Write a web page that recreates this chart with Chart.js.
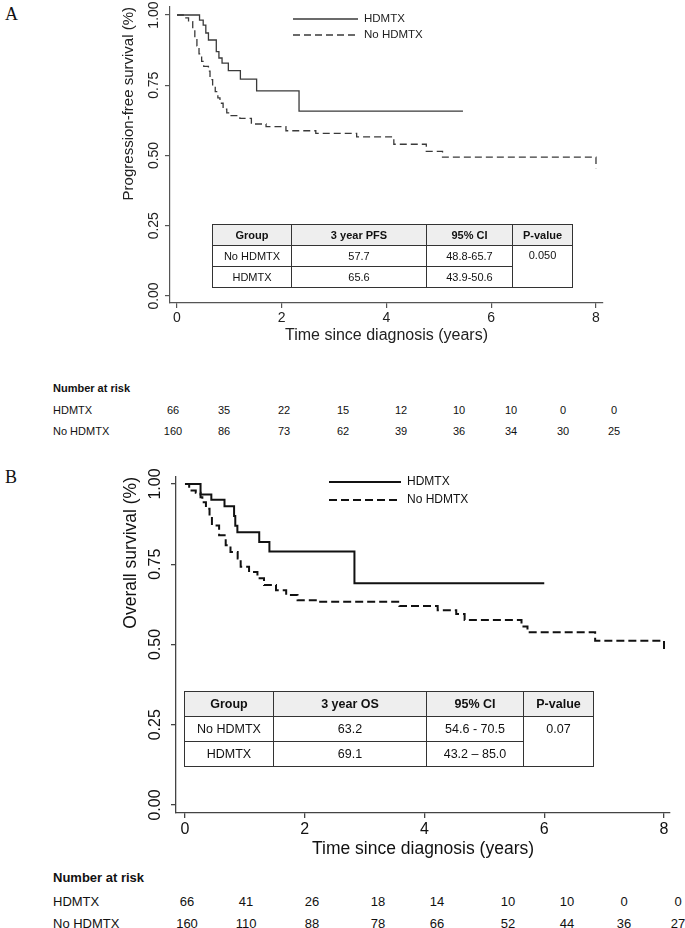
<!DOCTYPE html>
<html>
<head>
<meta charset="utf-8">
<script src="https://cdn.jsdelivr.net/npm/chart.js@4.4.0/dist/chart.umd.min.js"></script>
<style>
  body { margin: 0; background: #fff; width: 685px; height: 928px; position: relative; overflow: hidden;
         font-family: "Liberation Sans", Arial, sans-serif; color: #111; }
  canvas { position: absolute; left: 0; }
  .letter { position: absolute; left: 5px; font-family: "Liberation Serif", "Times New Roman", serif; font-size: 18px; }
  table.km { position: absolute; border-collapse: collapse; table-layout: fixed; color: #111; }
  table.km td, table.km th { padding: 0; text-align: center; font-weight: normal; }
  table.km th { background: #eeeeee; font-weight: bold; }
  table.km td.pv { vertical-align: top; }
  .risk { position: absolute; white-space: nowrap; line-height: 14px; }
  .risk.num { transform: translateX(-50%); }
</style>
</head>
<body>
<div class="letter" style="top:4px">A</div>
<div class="letter" style="top:467px">B</div>
<canvas id="pfs" width="685" height="345" style="top:0"></canvas>
<canvas id="os" width="685" height="400" style="top:460px"></canvas>

<script>
const xTicks = [0, 2, 4, 6, 8];
const yTicks = [0, 0.25, 0.5, 0.75, 1];
const groups = ['HDMTX', 'No HDMTX'];

// panel A - progression-free survival (years, proportion)
const pfsHdTime = [0, 0.43, 0.50, 0.55, 0.60, 0.75, 0.80, 0.86, 0.98, 1.21, 1.52, 2.33, 5.46];
const pfsHdSurv = [1, 0.982, 0.964, 0.936, 0.911, 0.870, 0.847, 0.829, 0.802, 0.772, 0.730, 0.658, 0.658];
const pfsNoTime = [0, 0.12, 0.22, 0.30, 0.34, 0.38, 0.42, 0.47, 0.51, 0.60, 0.63, 0.68, 0.73, 0.78, 0.82, 0.88, 0.95, 1.01, 1.20, 1.42, 1.70, 2.08, 2.65, 3.43, 4.14, 4.76, 5.07, 8.0];
const pfsNoSurv = [1, 0.990, 0.976, 0.952, 0.918, 0.890, 0.862, 0.835, 0.817, 0.800, 0.770, 0.745, 0.727, 0.705, 0.686, 0.665, 0.652, 0.642, 0.632, 0.612, 0.603, 0.588, 0.579, 0.566, 0.540, 0.515, 0.494, 0.455];

// panel B - overall survival
const osHdTime = [0, 0.26, 0.44, 0.66, 0.82, 0.84, 0.875, 1.24, 1.41, 2.83, 6.0];
const osHdSurv = [1, 0.967, 0.951, 0.931, 0.900, 0.870, 0.850, 0.819, 0.790, 0.691, 0.691];
const osNoTime = [0, 0.07, 0.18, 0.26, 0.29, 0.35, 0.41, 0.45, 0.57, 0.68, 0.76, 0.88, 0.93, 1.07, 1.21, 1.32, 1.52, 1.69, 1.88, 2.24, 3.58, 4.22, 4.53, 4.67, 5.62, 5.72, 6.85, 8.0];
const osNoSurv = [1, 0.980, 0.973, 0.959, 0.943, 0.923, 0.902, 0.871, 0.840, 0.809, 0.788, 0.768, 0.742, 0.726, 0.706, 0.685, 0.669, 0.654, 0.638, 0.633, 0.620, 0.607, 0.595, 0.576, 0.556, 0.538, 0.512, 0.483];

// number at risk
const riskPfsHd = [66, 35, 22, 15, 12, 10, 10, 0, 0];
const riskPfsNo = [160, 86, 73, 62, 39, 36, 34, 30, 25];
const riskOsHd = [66, 41, 26, 18, 14, 10, 10, 0, 0];
const riskOsNo = [160, 110, 88, 78, 66, 52, 44, 36, 27];

// summary tables
const pfsHeader = ['Group', '3 year PFS', '95% CI', 'P-value'];
const pfsRows = [['No HDMTX', '57.7', '48.8-65.7'], ['HDMTX', '65.6', '43.9-50.6']];
const pfsP = '0.050';
const osHeader = ['Group', '3 year OS', '95% CI', 'P-value'];
const osRows = [['No HDMTX', '63.2', '54.6 - 70.5'], ['HDMTX', '69.1', '43.2 \u2013 85.0']];
const osP = '0.07';

const FONT = '"Liberation Sans", Arial, sans-serif';

function pts(t, s) {
  return t.map((x, i) => ({ x: x, y: s[i] }));
}

function drawKm(id, o) {
  const extras = {
    id: 'extras',
    afterDraw(chart) {
      const ctx = chart.ctx;
      const sc = chart.scales.y;
      ctx.save();
      ctx.fillStyle = o.text;
      ctx.font = o.tickFont + 'px ' + FONT;
      ctx.textAlign = 'center';
      ctx.textBaseline = 'middle';
      sc.ticks.forEach(t => {
        ctx.save();
        ctx.translate(o.yLabelX, sc.getPixelForValue(t.value));
        ctx.rotate(-Math.PI / 2);
        ctx.fillText(t.value.toFixed(2), 0, 0);
        ctx.restore();
      });
      // legend
      ctx.textAlign = 'left';
      ctx.font = o.legFont + 'px ' + FONT;
      chart.data.datasets.forEach((ds, i) => {
        const y = o.legY + i * o.legGap;
        ctx.strokeStyle = ds.borderColor;
        ctx.lineWidth = ds.borderWidth;
        ctx.setLineDash(ds.borderDash || []);
        ctx.beginPath();
        ctx.moveTo(o.legX, y);
        ctx.lineTo(o.legX + o.legLen, y);
        ctx.stroke();
        ctx.setLineDash([]);
        ctx.fillText(ds.label, o.legX + o.legLen + 6, y);
      });
      ctx.restore();
    }
  };

  const axisGrid = { drawOnChartArea: false, drawTicks: true, tickLength: 5, color: o.axis, lineWidth: o.axisW };
  const axisBorder = { display: true, color: o.axis, width: o.axisW };

  return new Chart(document.getElementById(id), {
    type: 'line',
    data: {
      datasets: [
        { label: groups[0], data: pts(o.hdT, o.hdS), stepped: true, borderColor: o.line,
          borderWidth: o.lineW, pointRadius: 0, fill: false },
        { label: groups[1], data: pts(o.noT, o.noS), stepped: true, borderColor: o.line,
          borderWidth: o.lineW, borderDash: o.dash, pointRadius: 0, fill: false }
      ]
    },
    options: {
      responsive: false,
      animation: false,
      layout: { padding: { left: 0, top: o.top, right: o.right, bottom: 0 } },
      plugins: { legend: { display: false }, tooltip: { enabled: false } },
      scales: {
        x: {
          type: 'linear', min: o.xMin, max: o.xMax,
          afterBuildTicks: s => { s.ticks = xTicks.map(v => ({ value: v })); },
          afterFit: s => { s.height = o.xHeight; },
          grid: axisGrid, border: axisBorder,
          ticks: { color: o.text, font: { family: FONT, size: o.tickFont }, padding: 2, maxRotation: 0, autoSkip: false },
          title: { display: true, text: 'Time since diagnosis (years)', color: o.text,
                   font: { family: FONT, size: o.titleFont }, padding: { top: 0, bottom: 0 } }
        },
        y: {
          type: 'linear', min: o.yMin, max: o.yMax,
          afterBuildTicks: s => { s.ticks = yTicks.map(v => ({ value: v })); },
          afterFit: s => { s.width = o.yWidth; },
          grid: axisGrid, border: axisBorder,
          ticks: { display: false },
          title: { display: true, text: o.yTitle, align: 'end', color: o.text,
                   font: { family: FONT, size: o.yTitleFont }, padding: { top: o.yTitlePad, bottom: 0 } }
        }
      }
    },
    plugins: [extras]
  });
}

drawKm('pfs', {
  hdT: pfsHdTime, hdS: pfsHdSurv, noT: pfsNoTime, noS: pfsNoSurv,
  top: 7, right: 82, xHeight: 42, yWidth: 170,
  xMin: -0.134, xMax: 8.134, yMin: -0.025, yMax: 1.0285,
  line: '#3a3a3a', lineW: 1.3, dash: [7, 4], axis: '#555', axisW: 1.2, text: '#222',
  tickFont: 14, titleFont: 16, yTitleFont: 15, yTitle: 'Progression-free survival (%)', yTitlePad: 120,
  yLabelX: 154, legX: 293, legY: 19, legGap: 16, legLen: 65, legFont: 11.5
});

drawKm('os', {
  hdT: osHdTime, hdS: osHdSurv, noT: osNoTime, noS: osNoSurv,
  top: 17, right: 15, xHeight: 47, yWidth: 176,
  xMin: -0.150, xMax: 8.100, yMin: -0.025, yMax: 1.0218,
  line: '#111', lineW: 2, dash: [8, 4], axis: '#444', axisW: 1.3, text: '#111',
  tickFont: 16, titleFont: 17.5, yTitleFont: 17.5, yTitle: 'Overall survival (%)', yTitlePad: 121,
  yLabelX: 156, legX: 329, legY: 22, legGap: 18, legLen: 72, legFont: 12
});

function buildTable(header, rows, p, o) {
  const t = document.createElement('table');
  t.className = 'km';
  t.style.left = o.left + 'px';
  t.style.top = o.top + 'px';
  t.style.width = o.widths.reduce((a, b) => a + b, 0) + 'px';
  t.style.fontSize = o.font + 'px';
  const cg = document.createElement('colgroup');
  o.widths.forEach(w => { const c = document.createElement('col'); c.style.width = w + 'px'; cg.appendChild(c); });
  t.appendChild(cg);
  const border = o.bw + 'px solid #333';
  const hr = t.insertRow();
  header.forEach(h => {
    const th = document.createElement('th');
    th.textContent = h;
    th.style.border = border;
    th.style.height = o.rh + 'px';
    hr.appendChild(th);
  });
  rows.forEach((r, i) => {
    const tr = t.insertRow();
    r.forEach(v => {
      const td = tr.insertCell();
      td.textContent = v;
      td.style.border = border;
      td.style.height = o.rh + 'px';
    });
    if (i === 0) {
      const td = tr.insertCell();
      td.textContent = p;
      td.rowSpan = rows.length;
      td.className = 'pv';
      td.style.border = border;
      td.style.paddingTop = o.pvPad + 'px';
    }
  });
  document.body.appendChild(t);
}

buildTable(pfsHeader, pfsRows, pfsP, { left: 212, top: 224, widths: [79, 135, 86, 60], rh: 20, font: 11, bw: 1, pvPad: 3 });
buildTable(osHeader, osRows, osP, { left: 184, top: 691, widths: [89, 153, 97, 70], rh: 24, font: 12.5, bw: 1.5, pvPad: 5 });

function riskRow(text, x, y, size, bold, cls) {
  const d = document.createElement('div');
  d.className = 'risk' + (cls ? ' ' + cls : '');
  d.textContent = text;
  d.style.left = x + 'px';
  d.style.top = (y - 7) + 'px';
  d.style.fontSize = size + 'px';
  if (bold) d.style.fontWeight = 'bold';
  document.body.appendChild(d);
}

function riskTable(hd, no, xs, ys, size) {
  riskRow('Number at risk', 53, ys[0], size, true);
  riskRow(groups[0], 53, ys[1], size, false);
  riskRow(groups[1], 53, ys[2], size, false);
  hd.forEach((v, i) => riskRow(String(v), xs[i], ys[1], size, false, 'num'));
  no.forEach((v, i) => riskRow(String(v), xs[i], ys[2], size, false, 'num'));
}

riskTable(riskPfsHd, riskPfsNo, [173, 224, 284, 343, 401, 459, 511, 563, 614], [388, 410, 431], 11);
riskTable(riskOsHd, riskOsNo, [187, 246, 312, 378, 437, 508, 567, 624, 678], [878, 902, 924], 13);
</script>
</body>
</html>
